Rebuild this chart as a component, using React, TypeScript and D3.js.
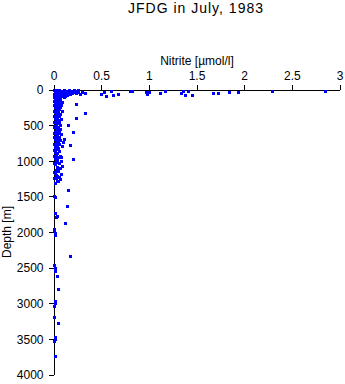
import React from "react";
import * as d3 from "d3";

const W = 345;
const H = 384;

const title = "JFDG in July, 1983";
const xLabel = "Nitrite [\u00b5mol/l]";
const yLabel = "Depth [m]";

const xTicks = [0, 0.5, 1, 1.5, 2, 2.5, 3];
const yTicks = [0, 500, 1000, 1500, 2000, 2500, 3000, 3500, 4000];

// [nitrite, depth]
const surfacePoints: [number, number][] = [
  [0.0, 0], [0.01, 5], [0.02, 10], [0.03, 0], [0.04, 20], [0.05, 5], [0.06, 15], [0.07, 30],
  [0.08, 10], [0.09, 25], [0.1, 40], [0.11, 5], [0.12, 20], [0.13, 35], [0.14, 10], [0.15, 50],
  [0.16, 25], [0.17, 60], [0.18, 15], [0.19, 45], [0.2, 30], [0.22, 10], [0.23, 40], [0.25, 20],
  [0.27, 55], [0.29, 30], [0.33, 40], [0.02, 40], [0.03, 60], [0.01, 80], [0.04, 90], [0.05, 70],
  [0.06, 100], [0.08, 80], [0.1, 70], [0.12, 90], [0.07, 55], [0.01, 30], [0.04, 50], [0.09, 60],
  [0.14, 75], [0.0, 60], [0.03, 85], [0.11, 100], [0.16, 5], [0.21, 0], [0.25, 0], [0.24, 35],
  [0.02, 25], [0.06, 45], [0.1, 15], [0.13, 60], [0.07, 85], [0.0, 100], [0.05, 35], [0.15, 30],
  [0.49, 55], [0.52, 30], [0.6, 15], [0.55, 85], [0.62, 70], [0.67, 55], [0.8, 15], [0.82, 15],
  [0.96, 30], [0.98, 55], [1.0, 30], [1.11, 40], [1.16, 15], [1.33, 40], [1.35, 15], [1.37, 70],
  [1.41, 15], [1.45, 70], [1.67, 40], [1.72, 40], [1.84, 30], [1.93, 30], [2.29, 15], [2.84, 15],
];

const columnPoints: [number, number][] = [
  [0.01, 110], [0.04, 120], [0.02, 135], [0.06, 145], [0.03, 155], [0.08, 165], [0.01, 175],
  [0.05, 185], [0.02, 200], [0.07, 210], [0.04, 220], [0.01, 235], [0.06, 245], [0.03, 260],
  [0.05, 270], [0.02, 285], [0.08, 295], [0.01, 310], [0.04, 320], [0.06, 335], [0.02, 350],
  [0.05, 365], [0.03, 380], [0.01, 395], [0.07, 405], [0.04, 420], [0.02, 440], [0.05, 455],
  [0.03, 470], [0.06, 485], [0.01, 500], [0.04, 515], [0.02, 530], [0.06, 545], [0.03, 560],
  [0.05, 575], [0.01, 590], [0.04, 605], [0.07, 620], [0.02, 640], [0.05, 655], [0.03, 670],
  [0.01, 690], [0.06, 700], [0.04, 720], [0.02, 740], [0.05, 755], [0.03, 775], [0.08, 785],
  [0.01, 800], [0.04, 815], [0.02, 830], [0.05, 850], [0.01, 870], [0.03, 890], [0.02, 910],
  [0.06, 925], [0.04, 945], [0.01, 960], [0.03, 980], [0.07, 995], [0.02, 1010], [0.05, 1025],
  [0.01, 1045], [0.08, 1060], [0.03, 1080], [0.06, 1100], [0.02, 1120], [0.04, 1140],
  [0.01, 1160], [0.07, 1180], [0.03, 1200], [0.05, 1220], [0.02, 1240], [0.06, 1255],
  [0.04, 1275], [0.01, 1300],
  [0.03, 115], [0.0, 150], [0.05, 160], [0.02, 190], [0.0, 215], [0.03, 230], [0.04, 275],
  [0.0, 300], [0.02, 330], [0.0, 360], [0.03, 410], [0.0, 450], [0.02, 480], [0.0, 520],
  [0.02, 565], [0.0, 610], [0.03, 630], [0.0, 660], [0.02, 710], [0.0, 760], [0.03, 800],
  [0.0, 840], [0.02, 880], [0.0, 930], [0.02, 1000], [0.0, 1030], [0.03, 1090], [0.0, 1150],
  [0.02, 1190], [0.0, 1230], [0.03, 1280],
];

const deepPoints: [number, number][] = [
  [0.0, 1490], [0.01, 1500], [0.01, 1720], [0.03, 1770], [0.02, 1780], [0.0, 1950],
  [0.0, 1965], [0.01, 2005], [0.01, 2035], [0.0, 2456], [0.01, 2500], [0.01, 2540],
  [0.03, 2610], [0.04, 2795], [0.01, 2960], [0.01, 2990], [0.0, 3030], [0.0, 3185],
  [0.04, 3270], [0.01, 3465], [0.01, 3495], [0.0, 3525], [0.01, 3735],
];

const outlierPoints: [number, number][] = [
  [0.23, 196], [0.32, 323], [0.23, 393], [0.15, 491], [0.2, 590], [0.11, 688], [0.09, 730],
  [0.17, 772], [0.07, 940], [0.2, 968], [0.15, 1404], [0.14, 1628], [0.12, 1867], [0.17, 2330],
];

const allPoints = [...surfacePoints, ...columnPoints, ...deepPoints, ...outlierPoints];

const font = "'Liberation Sans', Arial, Helvetica, sans-serif";

export default function App() {
  const x = d3.scaleLinear().domain([0, 3]).range([54, 340]);
  const y = d3.scaleLinear().domain([0, 4000]).range([90, 375]);
  const fmt = d3.format("");

  return (
    <svg
      width={W}
      height={H}
      style={{ position: "absolute", left: 0, top: 0, background: "#fff" }}
      fontFamily={font}
    >
      <rect x={0} y={0} width={W} height={H} fill="#fff" />
      <text x={196} y={12.5} textAnchor="middle" fontSize={14} letterSpacing={1} fill="#000">
        {title}
      </text>
      <text x={197} y={65} textAnchor="middle" fontSize={12} fill="#000">
        {xLabel}
      </text>
      <text
        transform={`translate(11,232) rotate(-90)`}
        textAnchor="middle"
        fontSize={12}
        fill="#000"
      >
        {yLabel}
      </text>
      <line x1={x(0)} x2={x(3)} y1={y(0)} y2={y(0)} stroke="#000" strokeWidth={1} shapeRendering="crispEdges" />
      <line x1={x(0)} x2={x(0)} y1={y(0)} y2={y(4000)} stroke="#000" strokeWidth={1} shapeRendering="crispEdges" />
      {xTicks.map((t) => (
        <g key={"xt" + t}>
          <line x1={x(t)} x2={x(t)} y1={y(0) - 5} y2={y(0)} stroke="#000" shapeRendering="crispEdges" />
          <text x={x(t)} y={79.5} textAnchor="middle" fontSize={12} fill="#000">
            {fmt(t)}
          </text>
        </g>
      ))}
      {yTicks.map((t) => (
        <g key={"yt" + t}>
          <line x1={x(0) - 5} x2={x(0)} y1={y(t)} y2={y(t)} stroke="#000" shapeRendering="crispEdges" />
          <text x={43.5} y={y(t)} dy="0.36em" textAnchor="end" fontSize={12} fill="#000">
            {fmt(t)}
          </text>
        </g>
      ))}
      {allPoints.map((p, i) => (
        <rect
          key={i}
          x={Math.round(x(p[0])) - 1}
          y={Math.round(y(p[1])) - 1}
          width={3}
          height={3}
          fill="#0000ff"
        />
      ))}
    </svg>
  );
}
